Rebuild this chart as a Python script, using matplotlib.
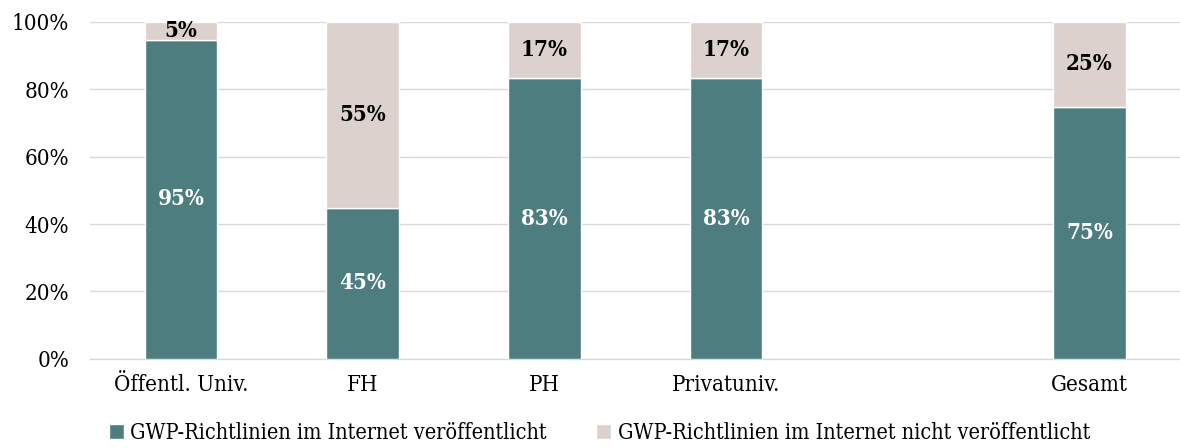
import matplotlib
matplotlib.use("Agg")
import matplotlib.pyplot as plt
from matplotlib.ticker import PercentFormatter

categories = ["Öffentl. Univ.", "FH", "PH", "Privatuniv.", "Gesamt"]
positions = [0, 1, 2, 3, 5]
published = [94.7, 44.8, 83.3, 83.3, 74.8]
not_published = [5.3, 55.2, 16.7, 16.7, 25.2]
labels_pub = ["95%", "45%", "83%", "83%", "75%"]
labels_not = ["5%", "55%", "17%", "17%", "25%"]
series_names = ["GWP-Richtlinien im Internet veröffentlicht",
                "GWP-Richtlinien im Internet nicht veröffentlicht"]

TEAL = "#4E7D80"
SAND = "#DDD1CD"

plt.rcParams["font.family"] = ["DejaVu Serif"]
plt.rcParams["font.stretch"] = "condensed"

fig = plt.figure(figsize=(11.8, 4.48), dpi=100)
ax = fig.add_axes([0.0763, 0.199, 0.924, 0.752])

b1 = ax.bar(positions, published, width=0.4, color=TEAL, edgecolor="white",
            linewidth=1, label=series_names[0], zorder=3)
b2 = ax.bar(positions, not_published, width=0.4, bottom=published, color=SAND,
            edgecolor="white", linewidth=1, label=series_names[1], zorder=3)

for x, p, n, lp, ln in zip(positions, published, not_published, labels_pub, labels_not):
    ax.text(x, p / 2, lp, ha="center", va="center", color="white",
            fontsize=16, fontweight="bold", zorder=4)
    ax.text(x, p + n / 2, ln, ha="center", va="center", color="black",
            fontsize=16, fontweight="bold", zorder=4)

ax.set_xlim(-0.5, 5.5)
ax.set_ylim(0, 100)
ax.set_yticks(range(0, 101, 20))
ax.yaxis.set_major_formatter(PercentFormatter(decimals=0))
ax.set_xticks(positions)
ax.set_xticklabels(categories)
ax.tick_params(axis="both", length=0, labelsize=16)
ax.tick_params(axis="y", pad=15)
ax.tick_params(axis="x", pad=11)
ax.grid(axis="y", color="#D9D9D9", linewidth=1, zorder=0)
ax.axhline(0, color="#D9D9D9", linewidth=1, zorder=1, clip_on=False)
for s in ax.spines.values():
    s.set_visible(False)

fig.legend(handles=[b1, b2], loc="lower center", bbox_to_anchor=(0.508, -0.035),
           ncol=2, frameon=False, fontsize=15.5, handlelength=0.7,
           handleheight=0.7, handletextpad=0.3, columnspacing=2.3)

fig.savefig("out.png", dpi=100)
